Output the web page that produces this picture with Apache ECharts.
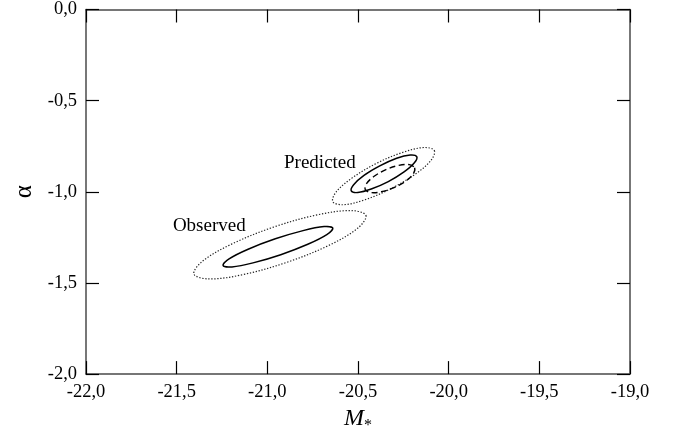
<!DOCTYPE html>
<html>
<head>
<meta charset="utf-8">
<script src="https://cdn.jsdelivr.net/npm/echarts@6/dist/echarts.min.js"></script>
<style>
html,body{margin:0;padding:0;background:#fff;}
#chart{width:679px;height:439px;}
</style>
</head>
<body>
<div id="chart"></div>
<script>
// Axis ranges / ticks
const xTicks = [-22.0, -21.5, -21.0, -20.5, -20.0, -19.5, -19.0];
const yTicks = [-2.0, -1.5, -1.0, -0.5, 0.0];

// Contours: [M*, alpha]
const observedInner = [
  [-20.639,-1.199],[-20.672,-1.235],[-20.777,-1.288],[-20.926,-1.345],
  [-21.079,-1.390],[-21.195,-1.412],[-21.244,-1.404],[-21.211,-1.368],
  [-21.106,-1.315],[-20.956,-1.258],[-20.803,-1.213],[-20.687,-1.191]
];
const observedOuter = [
  [-20.456,-1.130],[-20.502,-1.200],[-20.663,-1.295],[-20.896,-1.388],
  [-21.138,-1.455],[-21.324,-1.478],[-21.405,-1.451],[-21.358,-1.381],
  [-21.197,-1.287],[-20.964,-1.193],[-20.722,-1.126],[-20.536,-1.103]
];
const predictedInner = [
  [-20.176,-0.807],[-20.189,-0.841],[-20.246,-0.891],[-20.333,-0.944],
  [-20.427,-0.985],[-20.501,-1.004],[-20.537,-0.995],[-20.524,-0.961],
  [-20.467,-0.910],[-20.380,-0.858],[-20.287,-0.816],[-20.212,-0.798]
];
const predictedDashed = [
  [-20.188,-0.868],[-20.195,-0.901],[-20.236,-0.941],[-20.301,-0.977],
  [-20.372,-1.000],[-20.430,-1.004],[-20.460,-0.987],[-20.452,-0.954],
  [-20.411,-0.915],[-20.346,-0.878],[-20.275,-0.855],[-20.217,-0.851]
];
const predictedOuter = [
  [-20.079,-0.774],[-20.098,-0.828],[-20.187,-0.905],[-20.323,-0.985],
  [-20.468,-1.046],[-20.583,-1.071],[-20.639,-1.054],[-20.620,-1.000],
  [-20.531,-0.923],[-20.396,-0.843],[-20.251,-0.783],[-20.135,-0.757]
];

const labelNames = ['Observed', 'Predicted'];
const labelPos = [[-21.32, -1.188], [-20.71, -0.844]];

const FONT = '"Liberation Serif", "Times New Roman", serif';
const fmt = v => v.toFixed(1).replace('.', ',');

function contourSeries(points, style) {
  return {
    type: 'custom',
    xAxisIndex: 0, yAxisIndex: 0,
    silent: true,
    data: [points[0]],
    encode: { x: 0, y: 1 },
    renderItem: function (params, api) {
      const pts = points.map(p => api.coord(p));
      return {
        type: 'polygon',
        shape: { points: pts, smooth: 0.35 },
        style: Object.assign({ fill: 'none', stroke: '#000', lineWidth: 1.3 }, style)
      };
    },
    z: 3
  };
}

const chart = echarts.init(document.getElementById('chart'), null, { renderer: 'canvas' });

const axisLineStyle = { color: '#4a4a4a', width: 1.5 };
const tickStyle = { color: '#000', width: 1.2 };

chart.setOption({
  animation: false,
  backgroundColor: '#fff',
  grid: { left: 86, top: 6, right: 49, bottom: 64, containLabel: false },
  xAxis: [
    {
      type: 'value', position: 'bottom',
      min: xTicks[0], max: xTicks[xTicks.length - 1], interval: 0.5,
      axisLine: { show: true, onZero: false, lineStyle: axisLineStyle },
      axisTick: { show: true, inside: true, length: 13, lineStyle: tickStyle },
      axisLabel: { formatter: fmt, fontFamily: FONT, fontSize: 18.5, color: '#000', margin: 9 },
      splitLine: { show: false },
      name: '{m|M}{s|*}',
      nameLocation: 'middle',
      nameGap: 29,
      nameTextStyle: {
        rich: {
          m: { fontFamily: FONT, fontStyle: 'italic', fontSize: 24, color: '#000' },
          s: { fontFamily: FONT, fontSize: 16, color: '#000', verticalAlign: 'bottom', padding: [14, 0, 0, 0] }
        }
      }
    },
    {
      type: 'value', position: 'top',
      min: xTicks[0], max: xTicks[xTicks.length - 1], interval: 0.5,
      axisLine: { show: true, onZero: false, lineStyle: axisLineStyle },
      axisTick: { show: true, inside: true, length: 13, lineStyle: tickStyle },
      axisLabel: { show: false },
      splitLine: { show: false }
    }
  ],
  yAxis: [
    {
      type: 'value', position: 'left',
      min: yTicks[0], max: yTicks[yTicks.length - 1], interval: 0.5,
      axisLine: { show: true, onZero: false, lineStyle: axisLineStyle },
      axisTick: { show: true, inside: true, length: 13, lineStyle: tickStyle },
      axisLabel: { formatter: fmt, fontFamily: FONT, fontSize: 18.5, color: '#000', margin: 9 },
      splitLine: { show: false },
      name: 'α',
      nameLocation: 'middle',
      nameRotate: 90,
      nameGap: 48,
      nameTextStyle: { fontFamily: FONT, fontSize: 25, color: '#000' }
    },
    {
      type: 'value', position: 'right',
      min: yTicks[0], max: yTicks[yTicks.length - 1], interval: 0.5,
      axisLine: { show: true, onZero: false, lineStyle: axisLineStyle },
      axisTick: { show: true, inside: true, length: 13, lineStyle: tickStyle },
      axisLabel: { show: false },
      splitLine: { show: false }
    }
  ],
  series: [
    contourSeries(observedOuter, { lineWidth: 1.2, lineDash: [1.3, 1.7], stroke: '#222' }),
    contourSeries(observedInner, { lineWidth: 1.5 }),
    contourSeries(predictedOuter, { lineWidth: 1.2, lineDash: [1.3, 1.7], stroke: '#222' }),
    contourSeries(predictedInner, { lineWidth: 1.5 }),
    contourSeries(predictedDashed, { lineWidth: 1.4, lineDash: [6, 3.5] }),
    {
      type: 'custom',
      xAxisIndex: 0, yAxisIndex: 0,
      silent: true,
      data: labelPos,
      encode: { x: 0, y: 1 },
      renderItem: function (params, api) {
        const p = api.coord([api.value(0), api.value(1)]);
        return {
          type: 'text',
          x: p[0], y: p[1],
          style: {
            text: labelNames[params.dataIndex],
            fill: '#000',
            font: '19px "Liberation Serif", "Times New Roman", serif',
            align: 'center',
            verticalAlign: 'middle'
          }
        };
      },
      z: 4
    }
  ]
});
</script>
</body>
</html>
